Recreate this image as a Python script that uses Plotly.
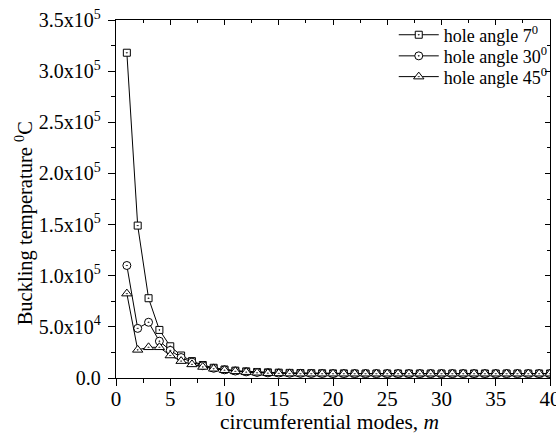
import plotly.graph_objects as go

# circumferential mode numbers
modes = list(range(1, 41))

# buckling temperature for each hole angle
temp_7deg = [3.18e5, 1.49e5, 7.8e4, 4.7e4, 3.1e4, 2.2e4, 1.65e4, 1.27e4, 1.0e4, 8.3e3,
             7.2e3, 6.5e3, 5.9e3, 5.5e3, 5.2e3, 5.0e3, 4.8e3, 4.7e3, 4.6e3, 4.5e3,
             4.5e3, 4.4e3, 4.4e3, 4.4e3, 4.4e3, 4.4e3, 4.4e3, 4.4e3, 4.4e3, 4.4e3,
             4.4e3, 4.4e3, 4.4e3, 4.4e3, 4.4e3, 4.4e3, 4.4e3, 4.4e3, 4.4e3, 4.4e3]
temp_30deg = [1.10e5, 4.85e4, 5.45e4, 3.6e4, 2.7e4, 2.0e4, 1.55e4, 1.2e4, 9.5e3, 8.0e3,
              6.8e3, 6.0e3, 5.4e3, 5.0e3, 4.8e3, 4.6e3, 4.5e3, 4.4e3, 4.4e3, 4.3e3,
              4.3e3, 4.3e3, 4.3e3, 4.3e3, 4.3e3, 4.3e3, 4.3e3, 4.3e3, 4.3e3, 4.3e3,
              4.3e3, 4.3e3, 4.3e3, 4.3e3, 4.3e3, 4.3e3, 4.3e3, 4.3e3, 4.3e3, 4.3e3]
temp_45deg = [8.25e4, 2.75e4, 3.0e4, 3.0e4, 2.2e4, 1.65e4, 1.33e4, 1.08e4, 9.0e3, 7.6e3,
              6.5e3, 5.7e3, 5.1e3, 4.7e3, 4.5e3, 4.3e3, 4.2e3, 4.2e3, 4.2e3, 4.2e3,
              4.2e3, 4.2e3, 4.2e3, 4.2e3, 4.2e3, 4.2e3, 4.2e3, 4.2e3, 4.2e3, 4.2e3,
              4.2e3, 4.2e3, 4.2e3, 4.2e3, 4.2e3, 4.2e3, 4.2e3, 4.2e3, 4.2e3, 4.2e3]

series_names = ["hole angle 7<sup>0</sup>", "hole angle 30<sup>0</sup>",
                "hole angle 45<sup>0</sup>"]

# axis ticks
x_ticks = [0, 5, 10, 15, 20, 25, 30, 35, 40]
y_ticks = [0, 5e4, 1e5, 1.5e5, 2e5, 2.5e5, 3e5, 3.5e5]
y_tick_text = ["0.0", "5.0x10<sup>4</sup>", "1.0x10<sup>5</sup>", "1.5x10<sup>5</sup>",
               "2.0x10<sup>5</sup>", "2.5x10<sup>5</sup>", "3.0x10<sup>5</sup>",
               "3.5x10<sup>5</sup>"]

FONT = "Times New Roman"

fig = go.Figure()
symbols = ["square-dot", "circle-dot", "triangle-up-dot"]
sizes = [7, 8, 9]
legend_ids = ["legend", "legend2", "legend3"]
for vals, name, sym, sz, lg in zip([temp_7deg, temp_30deg, temp_45deg], series_names,
                                   symbols, sizes, legend_ids):
    fig.add_trace(go.Scatter(
        x=modes, y=vals, name=name, mode="lines+markers", legend=lg,
        line=dict(color="black", width=1),
        marker=dict(symbol=sym, size=sz, color="white",
                    line=dict(color="black", width=1)),
    ))

# empty trace so the mirrored top/right axes get drawn
fig.add_trace(go.Scatter(x=[], y=[], xaxis="x2", yaxis="y2", showlegend=False))

axis_common = dict(showline=True, linecolor="black", linewidth=1.3, showgrid=False,
                   zeroline=False, tickcolor="black", tickwidth=1.2, automargin=False)


def legend_box(ypos):
    # one legend per series so the rows sit close together
    return dict(x=0.64, y=ypos, xanchor="left", yanchor="middle",
                bgcolor="rgba(0,0,0,0)", font=dict(family=FONT, size=18),
                itemwidth=40)


fig.update_layout(
    width=556, height=433,
    margin=dict(l=116, r=6, t=20, b=55, autoexpand=False),
    paper_bgcolor="white", plot_bgcolor="white",
    font=dict(family=FONT, size=20, color="black"),
    showlegend=True,
    legend=legend_box(0.958),
    legend2=legend_box(0.899),
    legend3=legend_box(0.841),
    xaxis=dict(range=[0, 40], tickvals=x_ticks, ticks="outside", ticklen=7,
               ticklabeloverflow="allow", ticklabelstandoff=-5,
               minor=dict(ticks="outside", ticklen=4, dtick=2.5, tick0=0,
                          tickcolor="black", tickwidth=1.2),
               tickfont=dict(family=FONT, size=21, color="black"),
               **axis_common),
    yaxis=dict(range=[0, 3.5e5], tickvals=y_ticks, ticktext=y_tick_text,
               ticks="outside", ticklen=7, ticklabelstandoff=3,
               minor=dict(ticks="outside", ticklen=4, dtick=2.5e4, tick0=0,
                          tickcolor="black", tickwidth=1.2),
               tickfont=dict(family=FONT, size=20, color="black"),
               **axis_common),
    xaxis2=dict(overlaying="x", side="top", anchor="y", range=[0, 40],
                tickvals=x_ticks, ticks="inside", ticklen=5, showticklabels=False,
                minor=dict(ticks="inside", ticklen=3, dtick=2.5, tick0=0,
                           tickcolor="black", tickwidth=1.2),
                **axis_common),
    yaxis2=dict(overlaying="y", side="right", anchor="x", range=[0, 3.5e5],
                tickvals=y_ticks, ticks="inside", ticklen=5, showticklabels=False,
                minor=dict(ticks="inside", ticklen=3, dtick=2.5e4, tick0=0,
                           tickcolor="black", tickwidth=1.2),
                **axis_common),
)

# axis titles
fig.add_annotation(text="circumferential modes, <i>m</i>",
                   xref="paper", yref="paper", x=0.492, y=-0.122,
                   xanchor="center", yanchor="middle", showarrow=False,
                   font=dict(family=FONT, size=21.5))
fig.add_annotation(text="Buckling temperature <sup>0</sup>C", textangle=-90,
                   xref="paper", yref="paper", x=-0.212, y=0.432,
                   xanchor="center", yanchor="middle", showarrow=False,
                   font=dict(family=FONT, size=20.5))

fig.write_html("out.html")
